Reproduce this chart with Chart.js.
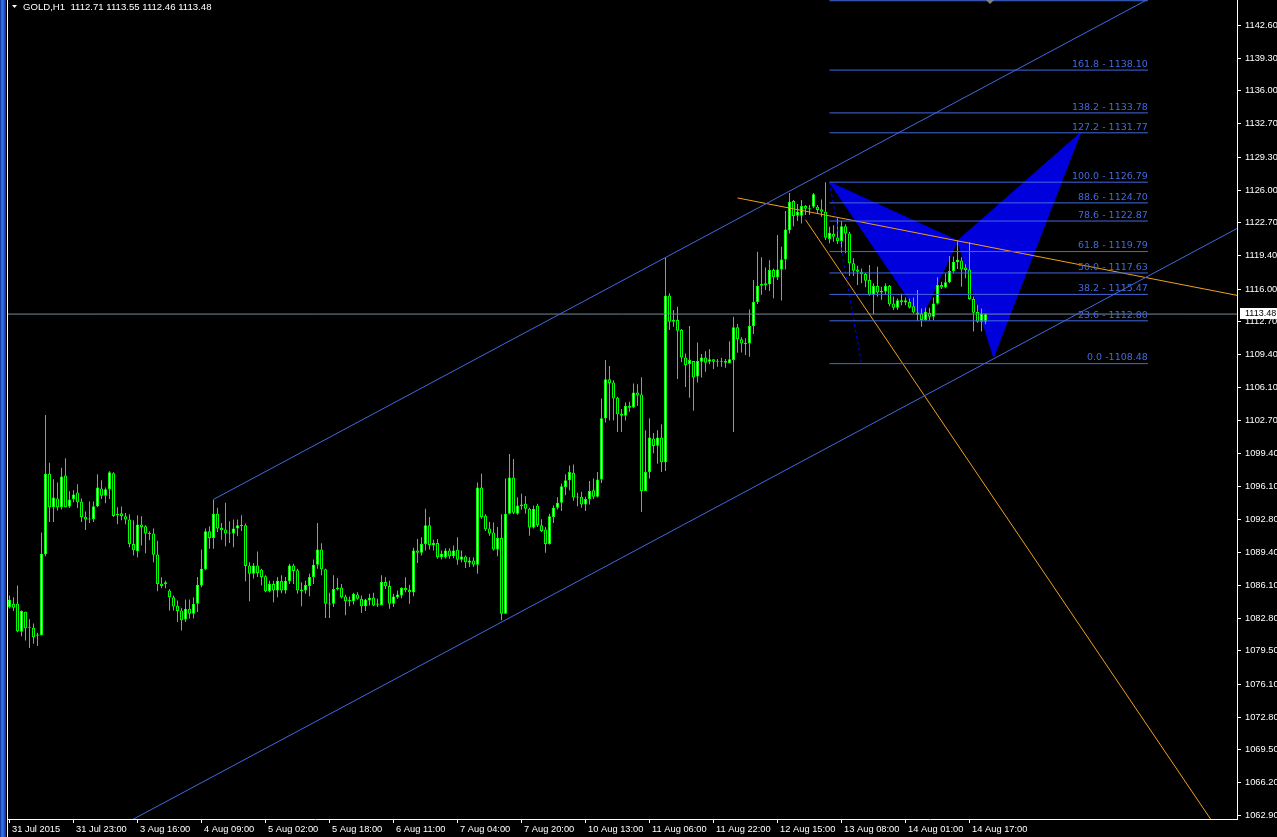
<!DOCTYPE html>
<html>
<head>
<meta charset="utf-8">
<title>GOLD,H1</title>
<script src="https://cdn.jsdelivr.net/npm/chart.js@4.4.1/dist/chart.umd.min.js"></script>
<style>
  html, body { margin: 0; padding: 0; background: #000; overflow: hidden; }
  #wrap { position: relative; width: 1277px; height: 837px; background: #000; }
  #chart { position: absolute; left: 0; top: 0; }
  #frame { position: absolute; left: 0; top: 0; width: 6px; height: 837px;
           background: linear-gradient(to right, #0b2a86 0px, #3d78f0 2px, #2458d8 4px, #0a2a8a 6px); }
  #edge { position: absolute; left: 7px; top: 0; width: 1px; height: 837px; background: #fff; }
</style>
</head>
<body>
<div id="wrap">
  <canvas id="chart" width="1277" height="837"></canvas>
  <div id="frame"></div>
  <div id="edge"></div>
</div>
<script>
// ===== GOLD H1 (31 Jul 2015 - 14 Aug 2015), bar index 0..244 =====
const open = [
  1083.91,1084.25,1084.25,1081.42,1083.45,1081.82,1081.82,1081.02,1081.08,1089.25,
  1097.38,1094.00,1094.88,1094.00,1097.18,1094.07,1094.81,1095.48,1094.54,1093.04,
  1092.74,1092.80,1094.10,1095.88,1095.14,1095.81,1097.41,1093.20,1093.37,1093.07,
  1092.74,1090.29,1089.55,1092.24,1092.07,1091.30,1091.34,1089.22,1086.28,1086.21,
  1085.58,1084.91,1084.05,1083.58,1082.65,1083.75,1083.25,1084.25,1086.08,1087.72,
  1091.57,1090.89,1093.34,1091.90,1091.74,1091.35,1091.35,1091.84,1092.17,1092.17,
  1088.12,1087.29,1088.12,1087.69,1087.02,1085.51,1086.25,1085.58,1086.58,1085.58,
  1086.51,1088.12,1087.62,1085.51,1085.58,1086.05,1086.95,1088.19,1089.72,1087.72,
  1084.25,1084.25,1085.71,1085.88,1084.98,1084.51,1084.51,1085.18,1084.75,1084.01,
  1084.58,1084.88,1084.15,1084.11,1086.45,1086.05,1084.25,1084.91,1085.08,1085.85,
  1085.65,1085.41,1089.62,1089.39,1090.29,1092.17,1090.15,1090.39,1088.95,1088.95,
  1089.62,1089.05,1089.69,1088.69,1089.02,1088.39,1088.62,1088.19,1095.98,1093.14,
  1091.84,1091.44,1089.72,1090.89,1083.25,1093.34,1096.98,1093.34,1094.10,1094.34,
  1093.84,1091.94,1094.14,1092.17,1091.74,1090.29,1093.00,1093.94,1094.44,1096.04,
  1096.71,1097.48,1094.98,1095.04,1094.27,1094.81,1095.71,1095.04,1096.78,1102.97,
  1106.90,1106.57,1105.03,1103.43,1103.23,1104.20,1104.07,1105.57,1105.37,1095.64,
  1097.54,1100.93,1100.19,1101.03,1098.54,1115.35,1112.71,1112.88,1111.88,1109.11,
  1108.44,1108.74,1107.17,1108.67,1109.11,1108.67,1108.91,1108.67,1108.74,1108.74,
  1108.51,1108.84,1112.15,1110.95,1110.57,1110.51,1112.28,1114.69,1116.35,1116.59,
  1116.49,1117.92,1117.19,1117.99,1119.00,1121.95,1124.88,1123.41,1123.41,1124.38,
  1124.15,1124.31,1124.31,1124.05,1123.81,1121.05,1121.55,1121.22,1120.85,1122.35,
  1121.62,1118.62,1117.99,1117.75,1117.52,1116.92,1115.42,1116.32,1115.65,1115.75,
  1116.32,1114.55,1114.11,1114.88,1114.65,1114.71,1114.28,1113.65,1113.55,1112.88,
  1113.61,1113.21,1114.55,1116.42,1116.19,1116.69,1117.82,1118.72,1118.88,1118.19,
  1117.99,1114.99,1113.68,1112.71,1112.71
];
const high = [
  1085.08,1084.91,1086.08,1083.58,1083.45,1082.68,1082.25,1081.32,1091.44,1103.30,
  1098.48,1096.81,1096.48,1097.98,1098.93,1095.61,1095.71,1096.31,1094.88,1093.57,
  1094.57,1094.57,1097.31,1096.71,1095.98,1097.61,1097.51,1094.00,1094.07,1093.40,
  1093.27,1092.67,1093.17,1093.07,1092.17,1091.57,1091.84,1090.62,1086.92,1086.58,
  1085.75,1085.08,1084.58,1083.81,1084.68,1084.68,1084.91,1086.95,1089.72,1091.84,
  1092.07,1094.78,1093.94,1092.40,1094.44,1092.57,1092.74,1092.74,1093.17,1092.34,
  1088.45,1088.35,1089.52,1087.79,1087.12,1086.58,1086.58,1086.95,1087.12,1086.95,
  1088.29,1088.29,1087.79,1086.41,1086.58,1087.29,1088.72,1092.40,1090.35,1087.79,
  1085.35,1087.12,1086.85,1086.25,1085.15,1084.98,1085.35,1085.41,1085.08,1084.75,
  1085.25,1085.35,1084.75,1087.12,1086.92,1086.58,1085.25,1085.58,1085.91,1086.92,
  1086.18,1089.89,1090.79,1090.95,1093.84,1093.00,1090.72,1090.79,1089.62,1089.85,
  1089.85,1090.12,1090.95,1089.62,1089.12,1088.95,1088.95,1096.48,1097.38,1093.27,
  1092.50,1092.44,1092.00,1093.27,1096.88,1099.36,1098.86,1095.00,1095.34,1095.11,
  1093.94,1094.17,1094.34,1092.77,1092.00,1093.34,1094.17,1095.00,1096.38,1097.31,
  1098.21,1098.31,1095.44,1095.54,1095.04,1096.64,1096.88,1097.54,1104.97,1108.84,
  1108.24,1106.80,1105.13,1103.90,1104.57,1104.63,1106.47,1106.40,1107.11,1101.76,
  1102.97,1101.49,1101.76,1102.36,1119.18,1115.59,1113.88,1114.21,1111.98,1109.51,
  1112.28,1108.74,1110.61,1109.44,1109.74,1109.94,1108.91,1108.94,1109.07,1108.94,
  1110.74,1113.21,1112.48,1111.15,1111.05,1113.95,1116.92,1119.78,1119.22,1118.19,
  1118.92,1118.09,1121.45,1120.28,1123.88,1125.71,1124.98,1124.58,1124.98,1124.48,
  1124.48,1125.71,1124.48,1125.05,1126.79,1122.28,1122.45,1123.15,1122.88,1122.55,
  1121.78,1119.12,1118.36,1118.09,1117.65,1118.42,1116.59,1118.25,1116.25,1116.59,
  1116.42,1115.25,1115.05,1115.52,1115.15,1115.05,1115.15,1115.92,1114.05,1114.11,
  1114.11,1115.15,1117.19,1116.75,1117.59,1119.35,1119.28,1120.88,1119.22,1118.52,
  1120.72,1115.25,1114.42,1114.05,1113.55
];
const low = [
  1083.78,1083.51,1081.38,1080.98,1080.55,1079.78,1080.22,1079.98,1081.08,1089.05,
  1092.50,1092.50,1093.67,1093.77,1094.00,1093.90,1094.50,1093.90,1092.50,1091.70,
  1092.40,1092.50,1094.00,1094.81,1094.40,1094.81,1093.00,1092.27,1092.67,1092.27,
  1089.95,1089.12,1088.95,1090.12,1089.35,1090.67,1088.45,1085.51,1085.81,1085.81,
  1083.58,1083.58,1082.41,1081.55,1082.41,1082.75,1082.75,1083.41,1085.91,1087.62,
  1089.79,1089.79,1091.50,1090.72,1090.05,1090.39,1089.95,1091.05,1091.60,1086.51,
  1084.51,1086.79,1086.95,1086.08,1085.41,1085.41,1084.41,1084.91,1085.31,1085.25,
  1086.25,1086.25,1085.25,1084.01,1085.25,1085.01,1086.25,1087.79,1087.12,1082.81,
  1082.81,1083.91,1085.58,1084.78,1083.08,1084.01,1084.18,1084.65,1083.31,1083.51,
  1084.08,1084.01,1083.91,1084.11,1085.75,1083.75,1083.91,1084.75,1084.81,1085.41,
  1084.25,1085.01,1088.35,1089.12,1089.62,1089.72,1089.62,1088.79,1088.72,1088.79,
  1088.79,1088.85,1088.19,1088.45,1087.85,1087.95,1087.95,1087.29,1092.84,1091.60,
  1091.10,1089.62,1089.05,1082.58,1083.25,1093.27,1093.27,1093.24,1093.74,1093.34,
  1091.10,1091.84,1092.00,1091.50,1089.39,1090.22,1092.40,1093.77,1093.60,1095.21,
  1095.71,1094.64,1094.10,1093.94,1093.60,1094.27,1094.81,1094.98,1096.44,1102.53,
  1102.73,1102.73,1101.59,1101.59,1102.73,1103.63,1103.97,1104.23,1093.50,1095.64,
  1096.88,1099.43,1098.38,1097.54,1097.64,1111.88,1112.21,1106.94,1108.61,1106.13,
  1105.03,1103.73,1106.57,1107.07,1107.67,1108.41,1107.94,1108.17,1108.17,1108.07,
  1108.51,1101.59,1109.57,1109.61,1109.34,1109.17,1111.48,1114.49,1115.42,1115.92,
  1115.82,1115.09,1116.92,1114.85,1118.00,1121.62,1122.35,1122.88,1122.62,1123.48,
  1123.48,1124.15,1123.65,1123.31,1120.95,1120.62,1120.78,1120.55,1119.68,1119.62,
  1117.32,1117.32,1116.42,1116.59,1116.19,1115.32,1113.48,1115.25,1114.92,1115.42,
  1114.28,1113.88,1113.88,1114.38,1114.38,1114.05,1113.55,1112.78,1112.21,1112.81,
  1112.81,1112.88,1114.45,1116.02,1116.09,1116.59,1117.59,1118.02,1116.25,1117.09,
  1114.92,1111.71,1112.61,1111.71,1112.46
];
const close = [
  1084.65,1083.85,1081.48,1083.51,1081.78,1081.85,1080.88,1081.15,1089.29,1097.38,
  1094.00,1094.98,1094.00,1097.08,1094.00,1094.78,1095.28,1094.50,1093.00,1092.74,
  1092.84,1094.10,1095.98,1095.14,1095.81,1097.51,1093.10,1093.34,1093.10,1092.74,
  1090.29,1089.65,1092.24,1092.00,1091.34,1091.40,1089.19,1086.25,1086.05,1086.41,
  1084.91,1083.98,1083.51,1082.58,1083.75,1083.25,1084.25,1086.18,1087.79,1091.57,
  1090.89,1093.34,1091.84,1091.67,1091.35,1091.45,1091.84,1092.17,1092.10,1088.05,
  1087.29,1088.12,1087.35,1086.95,1085.51,1086.25,1085.58,1086.58,1085.58,1086.58,
  1088.12,1087.55,1085.58,1085.68,1086.15,1086.95,1088.19,1089.72,1087.72,1084.25,
  1084.18,1085.75,1085.88,1084.91,1084.51,1084.65,1085.25,1084.75,1084.01,1084.68,
  1084.85,1084.08,1084.28,1086.45,1086.01,1084.25,1084.98,1085.18,1085.85,1085.61,
  1085.41,1089.62,1089.39,1090.29,1092.17,1090.19,1090.39,1088.95,1089.29,1089.62,
  1089.05,1089.62,1088.69,1089.02,1088.45,1088.62,1088.19,1095.98,1093.00,1091.77,
  1091.34,1089.72,1090.89,1083.25,1093.34,1096.98,1093.44,1094.17,1094.27,1093.84,
  1091.94,1093.84,1092.17,1091.60,1090.29,1093.07,1093.94,1094.44,1096.11,1096.71,
  1097.54,1094.98,1095.04,1094.27,1094.81,1095.64,1095.04,1096.78,1102.97,1106.90,
  1106.53,1104.97,1103.37,1103.23,1104.23,1104.03,1105.57,1105.30,1095.64,1097.54,
  1101.03,1100.16,1101.03,1098.54,1115.32,1112.71,1112.88,1111.81,1109.11,1108.34,
  1108.84,1107.07,1108.74,1109.11,1108.57,1108.91,1108.67,1108.74,1108.67,1108.57,
  1108.91,1112.15,1110.95,1110.51,1110.44,1112.28,1114.69,1116.35,1116.52,1116.42,
  1117.92,1117.19,1117.99,1119.00,1122.02,1124.81,1123.38,1123.81,1124.38,1124.11,
  1124.05,1125.58,1123.98,1123.81,1121.18,1121.68,1121.28,1120.85,1122.35,1121.62,
  1118.62,1117.85,1117.75,1117.49,1116.85,1115.42,1116.32,1115.65,1115.82,1116.32,
  1114.48,1114.11,1114.88,1114.71,1114.88,1114.15,1113.65,1113.45,1112.88,1113.71,
  1113.21,1114.55,1116.42,1116.19,1116.69,1117.82,1118.75,1118.95,1117.99,1117.92,
  1114.99,1113.61,1112.71,1113.55,1113.48
];

// ===== 軸ラベル =====
const timeTickIdx = [0, 16, 32, 48, 64, 80, 96, 112, 128, 144, 160, 176, 192, 208, 224, 240];
const timeLabels = ['31 Jul 2015', '31 Jul 23:00', '3 Aug 16:00', '4 Aug 09:00', '5 Aug 02:00',
  '5 Aug 18:00', '6 Aug 11:00', '7 Aug 04:00', '7 Aug 20:00', '10 Aug 13:00', '11 Aug 06:00',
  '11 Aug 22:00', '12 Aug 15:00', '13 Aug 08:00', '14 Aug 01:00', '14 Aug 17:00'];
const priceTicks = [1142.60, 1139.30, 1136.00, 1132.70, 1129.30, 1126.00, 1122.70, 1119.40,
  1116.00, 1112.70, 1109.40, 1106.10, 1102.70, 1099.40, 1096.10, 1092.80, 1089.40, 1086.10,
  1082.80, 1079.50, 1076.10, 1072.80, 1069.50, 1066.20, 1062.90];

// ===== オブジェクト (Fibo / channel / trendlines / pattern) =====
const fibRatios = [0.0, 23.6, 38.2, 50.0, 61.8, 78.6, 88.6, 100.0, 127.2, 138.2, 161.8, 200.0];
const fibPrices = [1108.48, 1112.80, 1115.47, 1117.63, 1119.79, 1122.87, 1124.70, 1126.79,
  1131.77, 1133.78, 1138.10, 1145.10];
const fibSpan = [205, 284.6];
const fibBaseX = [205, 213];
const fibBaseY = [1126.79, 1108.48];

const chanUpperX = [51, 307];
const chanUpperY = [1094.78, 1150.08];
const chanLowerX = [20, 307];
const chanLowerY = [1060.15, 1122.14];

const trendOrangeX = [182, 307];
const trendOrangeY = [1125.20, 1115.36];
const fanOrangeX = [199, 305];
const fanOrangeY = [1123.00, 1059.70];

const patternAX = [205, 237, 228, 205];
const patternAY = [1126.79, 1120.88, 1113.10, 1126.79];
const patternBX = [237, 267.75, 246, 237];
const patternBY = [1120.88, 1131.77, 1109.13, 1120.88];

const last = close.length - 1;
const bidPrice = close[last];

// ===== helpers =====
const pts = (xs, ys) => xs.map((x, k) => ({ x, y: ys[k] }));
const idx = open.map((_, i) => i);

const wickData = idx.map(i => ({ x: i, y: [low[i], high[i]] }));
const bodyData = idx.map(i => ({ x: i, y: [Math.min(open[i], close[i]), Math.max(open[i], close[i])] }));
const bodyFill = idx.map(i => (close[i] >= open[i] ? '#ffffff' : '#000000'));

const fibLineData = [];
fibPrices.forEach(p => {
  fibLineData.push({ x: fibSpan[0], y: p }, { x: fibSpan[1], y: p }, { x: fibSpan[1], y: null });
});

function lineDs(data, color, extra) {
  return Object.assign({
    type: 'line', data, borderColor: color, borderWidth: 1,
    pointRadius: 0, fill: false, tension: 0, order: 1
  }, extra || {});
}

const patternColor = '#0000dc';

const datasets = [
  lineDs(pts(patternAX, patternAY), patternColor, { fill: 'shape', backgroundColor: patternColor, order: 10 }),
  lineDs(pts(patternBX, patternBY), patternColor, { fill: 'shape', backgroundColor: patternColor, order: 10 }),
  {
    type: 'bar', data: wickData, order: 6, grouped: false,
    barThickness: 1, backgroundColor: '#00ff00', borderWidth: 0, inflateAmount: 0
  },
  {
    type: 'bar', data: bodyData, order: 5, grouped: false,
    barThickness: 3, backgroundColor: bodyFill, borderColor: '#00ff00', borderWidth: 1,
    borderSkipped: false, minBarLength: 1, inflateAmount: 0
  },
  lineDs([{ x: -1, y: bidPrice }, { x: 308, y: bidPrice }], '#778899', { order: 3 }),
  lineDs(fibLineData, '#4169e1', { spanGaps: false }),
  lineDs(pts(fibBaseX, fibBaseY), '#0000ff', { borderDash: [3, 3] }),
  lineDs(pts(chanUpperX, chanUpperY), '#4169e1'),
  lineDs(pts(chanLowerX, chanLowerY), '#4169e1'),
  lineDs(pts(trendOrangeX, trendOrangeY), '#f0a020'),
  lineDs(pts(fanOrangeX, fanOrangeY), '#f0a020')
];

// ===== テキスト類 (ヘッダ, Fiboラベル, Bid) =====
const mt4Overlay = {
  id: 'mt4Overlay',
  afterDatasetsDraw(chart) {
    const { ctx, scales: { x, y } } = chart;
    ctx.save();
    ctx.font = '9.5px "DejaVu Sans"';
    ctx.fillStyle = '#4169e1';
    ctx.textAlign = 'right';
    ctx.textBaseline = 'bottom';
    const xr = x.getPixelForValue(fibSpan[1]);
    fibPrices.forEach((p, k) => {
      const txt = fibRatios[k].toFixed(1) + (k === 0 ? ' -' : ' - ') + p.toFixed(2);
      ctx.fillText(txt, xr, y.getPixelForValue(p) - 1);
    });
    ctx.restore();
  },
  afterDraw(chart) {
    const { ctx, scales: { y } } = chart;
    ctx.save();
    // header
    ctx.fillStyle = '#ffffff';
    ctx.beginPath();
    ctx.moveTo(12, 5); ctx.lineTo(17, 5); ctx.lineTo(14.5, 8); ctx.closePath();
    ctx.fill();
    ctx.font = '9.6px "Liberation Sans"';
    ctx.textAlign = 'left';
    ctx.textBaseline = 'alphabetic';
    const f = v => v.toFixed(2);
    ctx.fillText('GOLD,H1  ' + f(open[last]) + ' ' + f(high[last]) + ' ' + f(low[last]) + ' ' + f(close[last]), 23, 10);
    // bid label
    const py = Math.round(y.getPixelForValue(bidPrice));
    ctx.fillStyle = '#ffffff';
    ctx.fillRect(1240, py - 6, 37, 11);
    ctx.fillStyle = '#000000';
    ctx.font = '9px "Liberation Sans"';
    ctx.textBaseline = 'middle';
    ctx.fillText(f(bidPrice), 1245, py);
    // chart shift marker
    ctx.fillStyle = '#808080';
    ctx.beginPath();
    ctx.moveTo(986, 0); ctx.lineTo(994, 0); ctx.lineTo(990, 4); ctx.closePath();
    ctx.fill();
    ctx.restore();
  }
};

const axisFont = { family: 'Liberation Sans', size: 9.3 };

new Chart(document.getElementById('chart'), {
  type: 'bar',
  data: { datasets },
  options: {
    responsive: false,
    animation: false,
    devicePixelRatio: 1,
    events: [],
    layout: { padding: { left: 8, top: 0, right: 0, bottom: 0 } },
    plugins: { legend: { display: false }, tooltip: { enabled: false } },
    scales: {
      x: {
        type: 'linear', position: 'bottom', min: -0.375, max: 306.875, offset: false,
        grid: { drawOnChartArea: false, offset: false, tickLength: 4, color: '#ffffff' },
        border: { display: true, color: '#ffffff' },
        ticks: {
          color: '#ffffff', font: axisFont, align: 'start', maxRotation: 0, autoSkip: false, padding: 1,
          callback: (v, k) => ' ' + timeLabels[k]
        },
        afterBuildTicks: s => { s.ticks = timeTickIdx.map(v => ({ value: v })); },
        afterFit: s => { s.height = 18; s.paddingLeft = 0; s.paddingRight = 0; }
      },
      y: {
        type: 'linear', position: 'right', min: 1062.53, max: 1145.173,
        grid: { drawOnChartArea: false, tickLength: 4, color: '#ffffff' },
        border: { display: true, color: '#ffffff' },
        ticks: {
          color: '#ffffff', font: axisFont, padding: 4, autoSkip: false,
          callback: v => Number(v).toFixed(2)
        },
        afterBuildTicks: s => { s.ticks = priceTicks.map(v => ({ value: v })); },
        afterFit: s => { s.width = 40; s.paddingTop = 0; s.paddingBottom = 0; }
      }
    }
  },
  plugins: [mt4Overlay]
});
</script>
</body>
</html>
